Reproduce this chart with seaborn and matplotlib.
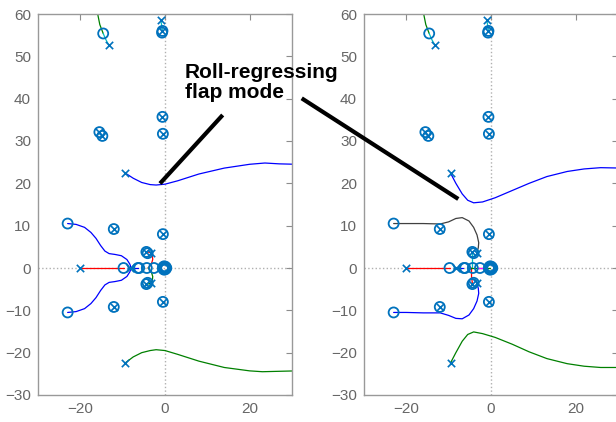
import numpy as np
import pandas as pd
import seaborn as sns
import matplotlib
matplotlib.use('Agg')
import matplotlib.pyplot as plt
from matplotlib.lines import Line2D

# open-loop poles (x) and zeros (o), shared by both plots
pole_re = [-13.3, -1.0, -9.5, -9.5, -20.0, -15.5, -14.8, -0.6, -0.5, -12.1, -12.1,
           -0.5, -0.5, -4.4, -4.4, -0.6, -3.3, -3.3, -8.3]
pole_im = [52.7, 58.6, 22.5, -22.5, 0.0, 32.1, 31.2, 35.7, 31.7, 9.2, -9.2,
           8.0, -8.0, 3.8, -3.8, 56.0, 3.6, -3.6, 0.0]
zero_re = [-14.6, -0.6, -0.7, -15.5, -14.8, -0.6, -0.5, -23.0, -23.0, -9.8, -12.1, -12.1,
           -0.5, -0.5, -4.4, -4.1, -4.4, -4.1, -6.4, -6.1, -4.3, -2.6,
           -0.5, -0.2, 0.0, 0.2, 0.3, -0.2, -0.2, 0.1, 0.1, -0.4, -0.4]
zero_im = [55.4, 56.0, 55.6, 32.1, 31.2, 35.7, 31.7, 10.5, -10.5, 0.0, 9.2, -9.2,
           8.0, -8.0, 3.8, 3.5, -3.8, -3.5, 0.0, 0.0, 0.0, 0.0,
           0.0, 0.0, 0.0, 0.0, 0.0, 0.4, -0.4, 0.3, -0.3, 0.2, -0.2]

# left plot: locus branches
L_green_top_re = [-16.1, -15.9, -15.4, -14.6]
L_green_top_im = [62.0, 60.0, 57.5, 55.4]
L_cyan1_re = [-13.3, -14.0, -14.6]
L_cyan1_im = [52.7, 54.0, 55.4]
L_cyan2_re = [-1.0, -0.8, -0.6]
L_cyan2_im = [58.6, 57.4, 56.0]
L_blue_up_re = [-9.5, -7.5, -5.5, -3.5, -2.1, 0.0, 3.0, 8.0, 14.0, 20.0, 23.6, 27.0, 31.0]
L_blue_up_im = [22.5, 21.2, 20.2, 19.7, 19.6, 19.8, 20.6, 22.2, 23.6, 24.5, 24.8, 24.6, 24.5]
L_green_lo_re = [-9.5, -7.5, -5.5, -3.5, -2.1, 0.0, 3.0, 8.0, 14.0, 20.0, 23.0, 27.0, 31.0]
L_green_lo_im = [-22.5, -21.0, -20.0, -19.5, -19.3, -19.5, -20.4, -22.0, -23.5, -24.3, -24.5, -24.4, -24.3]
L_blue_a_re = [-23.0, -21.0, -19.0, -17.5, -16.3, -15.2, -14.2, -13.2, -11.8, -10.3, -9.0, -8.3, -8.0]
L_blue_a_im = [10.5, 10.3, 9.6, 8.4, 7.0, 5.3, 4.0, 3.4, 3.2, 2.9, 2.0, 0.9, 0.0]
L_blue_b_re = [-23.0, -21.0, -19.0, -17.5, -16.3, -15.2, -14.2, -13.2, -11.8, -10.3, -9.0, -8.3, -8.0]
L_blue_b_im = [-10.5, -10.3, -9.6, -8.4, -7.0, -5.3, -4.0, -3.4, -3.2, -2.9, -2.0, -0.9, 0.0]
L_red_re = [-20.0, -9.8]
L_red_im = [0.0, 0.0]
L_red_s_re = [-4.4, -3.6, -3.0, -2.9, -3.2, -3.7, -4.0]
L_red_s_im = [3.8, 3.7, 3.1, 2.0, 1.0, 0.3, 0.0]
L_green_s_re = [-4.4, -3.6, -3.0, -2.9, -3.2, -3.7, -4.0]
L_green_s_im = [-3.8, -3.7, -3.1, -2.0, -1.0, -0.3, 0.0]
L_blue_axis_re = [-8.0, -6.4]
L_blue_axis_im = [0.0, 0.0]

# right plot: locus branches
R_blue_up_re = [-9.6, -8.3, -6.8, -5.5, -4.1, -2.0, 1.0, 5.0, 9.0, 13.2, 18.0, 22.0, 25.9, 31.0]
R_blue_up_im = [22.5, 20.0, 17.5, 16.0, 15.4, 15.6, 16.6, 18.3, 20.0, 21.6, 22.8, 23.4, 23.7, 23.6]
R_green_lo_re = [-9.6, -8.3, -6.8, -5.5, -4.1, -2.0, 1.0, 5.0, 9.0, 13.2, 18.0, 22.0, 25.9, 31.0]
R_green_lo_im = [-22.5, -20.0, -17.3, -15.7, -15.1, -15.5, -16.4, -18.0, -19.8, -21.4, -22.6, -23.2, -23.5, -23.5]
R_black_re = [-23.0, -20.0, -16.0, -12.0, -10.0, -8.3, -6.8, -5.2, -4.1, -3.3, -2.9, -3.0, -3.3]
R_black_im = [10.5, 10.5, 10.5, 10.4, 10.9, 11.7, 11.9, 11.1, 9.6, 7.8, 6.0, 4.8, 3.8]
R_blue_lo_re = [-23.0, -20.0, -16.0, -12.0, -10.0, -8.3, -6.8, -5.2, -4.1, -3.3, -2.9, -3.0, -3.3]
R_blue_lo_im = [-10.5, -10.5, -10.6, -10.6, -11.2, -11.9, -12.0, -11.1, -9.6, -7.8, -6.0, -4.8, -3.8]
R_red_re = [-20.0, -9.6]
R_red_im = [0.0, 0.0]
R_cyan_v_re = [-4.6, -4.6]
R_cyan_v_im = [3.8, 0.3]
R_red_v_re = [-4.6, -4.6, -4.4]
R_red_v_im = [0.0, -2.0, -3.6]
R_green_axis_re = [-5.7, -0.2]
R_green_axis_im = [0.0, 0.0]
R_mag_axis_re = [-3.4, -2.0]
R_mag_axis_im = [0.0, 0.0]
R_blue_axis_re = [-8.5, -6.5]
R_blue_axis_im = [0.0, 0.0]

MK = '#0072BD'
BLUE = '#0000FF'
RED = '#FF0000'
GREEN = '#008000'
CYAN = '#00BFBF'
DARK = '#404040'

sns.set_style('white')
plt.rcParams['font.family'] = ['Liberation Sans', 'DejaVu Sans']

fig = plt.figure(figsize=(6.16, 4.22), dpi=100)
ax1 = fig.add_axes([38 / 616, 27 / 422, 254 / 616, 381 / 422])
ax2 = fig.add_axes([364 / 616, 27 / 422, 254 / 616, 381 / 422])


def branch(ax, re, im, color):
    sns.lineplot(x=re, y=im, ax=ax, sort=False, estimator=None, color=color, lw=0.9)


def markers(ax):
    sns.scatterplot(x=zero_re, y=zero_im, ax=ax, marker='o', s=52, color=MK,
                    facecolor='none', edgecolor=MK, linewidth=1.3, zorder=5)
    sns.scatterplot(x=pole_re, y=pole_im, ax=ax, marker='x', s=28, color=MK,
                    linewidth=1.2, zorder=5)


def style(ax):
    ax.axhline(0, color='#b0b0b0', ls=':', lw=1.0, zorder=0)
    ax.axvline(0, color='#b0b0b0', ls=':', lw=1.0, zorder=0)
    ax.set_xlim(-30, 30)
    ax.set_ylim(-30, 60)
    ax.set_xticks([-20, 0, 20])
    ax.set_yticks(np.arange(-30, 61, 10))
    ax.tick_params(direction='in', top=True, right=True, length=4, width=0.8,
                   color='#8c8c8c', labelcolor='#666666', labelsize=11, pad=5)
    for sp in ax.spines.values():
        sp.set_color('#999999')
        sp.set_linewidth(1.0)
        sp.set_visible(True)
    ax.set_xlabel('')
    ax.set_ylabel('')


branch(ax1, L_green_top_re, L_green_top_im, GREEN)
branch(ax1, L_cyan1_re, L_cyan1_im, CYAN)
branch(ax1, L_cyan2_re, L_cyan2_im, CYAN)
branch(ax1, L_blue_up_re, L_blue_up_im, BLUE)
branch(ax1, L_green_lo_re, L_green_lo_im, GREEN)
branch(ax1, L_blue_a_re, L_blue_a_im, BLUE)
branch(ax1, L_blue_b_re, L_blue_b_im, BLUE)
branch(ax1, L_red_re, L_red_im, RED)
branch(ax1, L_red_s_re, L_red_s_im, RED)
branch(ax1, L_green_s_re, L_green_s_im, GREEN)
branch(ax1, L_blue_axis_re, L_blue_axis_im, BLUE)
markers(ax1)
style(ax1)

branch(ax2, L_green_top_re, L_green_top_im, GREEN)
branch(ax2, L_cyan1_re, L_cyan1_im, CYAN)
branch(ax2, L_cyan2_re, L_cyan2_im, CYAN)
branch(ax2, R_blue_up_re, R_blue_up_im, BLUE)
branch(ax2, R_green_lo_re, R_green_lo_im, GREEN)
branch(ax2, R_black_re, R_black_im, DARK)
branch(ax2, R_blue_lo_re, R_blue_lo_im, BLUE)
branch(ax2, R_red_re, R_red_im, RED)
branch(ax2, R_cyan_v_re, R_cyan_v_im, CYAN)
branch(ax2, R_red_v_re, R_red_v_im, RED)
branch(ax2, R_green_axis_re, R_green_axis_im, GREEN)
branch(ax2, R_mag_axis_re, R_mag_axis_im, '#FF00FF')
branch(ax2, R_blue_axis_re, R_blue_axis_im, BLUE)
markers(ax2)
style(ax2)

# annotation across both plots (figure pixel coords)
W, H = 616, 422
fig.text(185 / W, 1 - 63 / H, 'Roll-regressing\nflap mode', ha='left', va='top',
         fontsize=15, fontweight='bold', color='black', linespacing=1.1)
fig.add_artist(Line2D([222.7 / W, 160 / W], [1 - 115 / H, 1 - 183.5 / H],
                      color='black', lw=3, solid_capstyle='butt'))
fig.add_artist(Line2D([301.7 / W, 458.3 / W], [1 - 98.3 / H, 1 - 199 / H],
                      color='black', lw=3, solid_capstyle='butt'))

fig.savefig('out.png', dpi=100)
